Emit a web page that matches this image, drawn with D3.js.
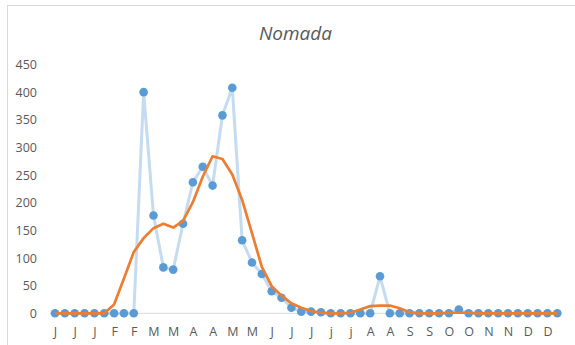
<!DOCTYPE html>
<html>
<head>
<meta charset="utf-8">
<script src="https://cdn.jsdelivr.net/npm/d3@7"></script>
<style>
  html, body { margin: 0; padding: 0; background: #fff; }
  svg { display: block; }
</style>
</head>
<body>
<svg id="chart" width="575" height="345"></svg>
<script>
const title = "Nomada";
const tickLabels = ["J","J","J","F","F","M","M","A","A","M","M","J","J","J","j","j","A","A","S","S","O","O","N","N","D","D"];
const counts = [0,0,0,0,0,0,0,0,0,400,177,83,79,162,237,265,231,358,408,132,92,71,40,28,10,3,3,2,0,0,0,0,0,67,0,0,0,0,0,0,0,7,0,0,0,0,0,0,0,0,0,0];
const trend = [0,0,0,0,0,0,16,63,111,136,154,162,155,167,201,247,284,279,251,205,145,84,49,32,18,10,4,1,0,0,1,7,13,14,14,9,2,0,0,0,1,1,1,0,0,0,0,0,0,0,0,0];
const yTicks = [0,50,100,150,200,250,300,350,400,450];

const svg = d3.select("#chart");
const weeks = counts.map((d, i) => i);

const x = d3.scalePoint().domain(weeks).range([55, 557.3]);
const y = d3.scaleLinear().domain([0, 450]).range([313.3, 64.5]);
const step = x.step();

// chart border
svg.append("rect")
  .attr("x", 7.5).attr("y", 5.5)
  .attr("width", 620).attr("height", 360)
  .attr("fill", "#fff").attr("stroke", "#d9d9d9").attr("stroke-width", 1);

// title
svg.append("text")
  .attr("x", 295.5).attr("y", 39.5)
  .attr("text-anchor", "middle")
  .attr("font-family", "'Open Sans', sans-serif")
  .attr("font-style", "italic")
  .attr("font-size", 19)
  .attr("fill", "#595959")
  .text(title);

// y axis labels
const yAxis = d3.axisLeft(y).tickValues(yTicks).tickSize(0).tickPadding(0);
const gy = svg.append("g").attr("transform", "translate(37,0)").call(yAxis);
gy.select(".domain").remove();
gy.selectAll("text")
  .attr("font-family", "'Open Sans', sans-serif")
  .attr("font-size", 12.5)
  .attr("fill", "#595959");

// x axis line
svg.append("line")
  .attr("x1", x(0) - step / 2).attr("x2", x(weeks.length - 1) + step / 2)
  .attr("y1", y(0)).attr("y2", y(0))
  .attr("stroke", "#d9d9d9").attr("stroke-width", 1);

// x labels (every other week)
const xAxis = d3.axisBottom(x)
  .tickValues(weeks.filter(i => i % 2 === 0))
  .tickFormat(i => tickLabels[i / 2])
  .tickSize(0).tickPadding(0);
const gx = svg.append("g").attr("transform", "translate(0,327.5)").call(xAxis);
gx.select(".domain").remove();
gx.selectAll("text")
  .attr("font-family", "'Open Sans', sans-serif")
  .attr("font-size", 12.5)
  .attr("fill", "#595959");

// blue series line
const line = d3.line().x((d, i) => x(i)).y(d => y(d));
svg.append("path")
  .datum(counts)
  .attr("d", line)
  .attr("fill", "none")
  .attr("stroke", "#C5DCF0")
  .attr("stroke-width", 3)
  .attr("stroke-linejoin", "round");

// markers
svg.append("g").selectAll("circle")
  .data(counts)
  .join("circle")
  .attr("cx", (d, i) => x(i))
  .attr("cy", d => y(d))
  .attr("r", 4.3)
  .attr("fill", "#5B9BD5");

// trend line
svg.append("path")
  .datum(trend)
  .attr("d", line)
  .attr("fill", "none")
  .attr("stroke", "#ED7D31")
  .attr("stroke-width", 2.7)
  .attr("stroke-linejoin", "round");
</script>
</body>
</html>
